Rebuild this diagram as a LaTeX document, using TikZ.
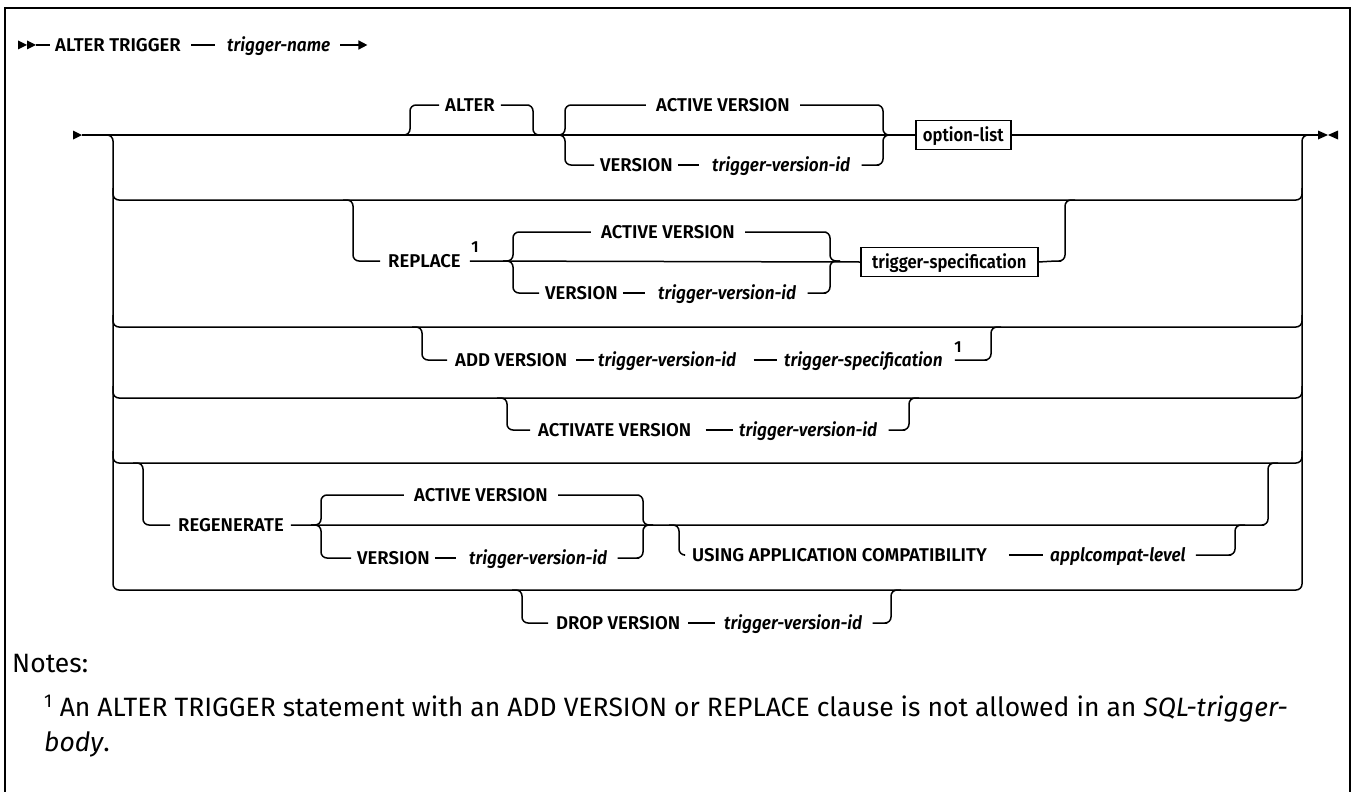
\documentclass[tikz,border=0pt]{standalone}
\usepackage{fontspec}
\setmainfont{Fira Sans}
\newfontfamily\railfont{Fira Sans}[UprightFont=* SemiBold, ItalicFont=* SemiBold Italic, ItalicFeatures={FakeStretch=0.93}]
\newfontfamily\boxfont{Fira Sans}[UprightFont=* SemiBold, FakeStretch=0.9]
\usetikzlibrary{arrows.meta}

\tikzset{
  track/.style={line width=1.5pt, rounded corners=6pt},
  kw/.style={font=\railfont\fontsize{18.5}{22}\selectfont, inner sep=0pt, text height=13pt, text depth=0pt, anchor=west},
  var/.style={kw, font=\railfont\itshape\fontsize{18.5}{22}\selectfont},
  sbox/.style={kw, font=\boxfont\fontsize{18.5}{22}\selectfont, draw, line width=1.5pt, minimum height=29pt},
  fnmark/.style={font=\railfont\fontsize{16}{18}\selectfont, inner sep=0pt},
  note/.style={font=\fontsize{26.5}{30}\selectfont, inner sep=0pt, text height=19pt, text depth=0pt, anchor=west}
}

\begin{document}
\begin{tikzpicture}[x=1pt, y=-1pt]
    \useasboundingbox (0,0) rectangle (1354,792);
    \draw[line width=2pt] (5,792) -- (5,8) -- (1350,8) -- (1350,792);

    % first line
    \foreach \tx in {18,27} \fill (\tx,40.5) -- ++(9,4.5) -- ++(-9,4.5) -- cycle;
    \node[kw] (altertrig) at (55,45) {ALTER TRIGGER};
    \node[var] (trigname) at (227,45) {trigger-name};
    \draw[track] (36,45) -- ([xshift=-5pt]altertrig.west);
    \draw[track] ([xshift=10pt]altertrig.east) -- ([xshift=-12pt]trigname.west);
    \draw[track, -{Triangle[length=9pt, width=9pt]}] ([xshift=10pt]trigname.east) -- ++(27,0);

    % main line and the stack of choices
    \fill (73,130.5) -- ++(9,4.5) -- ++(-9,4.5) -- cycle;
    \node[sbox, minimum width=95pt, align=center] (optlist) at (915,135) {option-list};
    \draw[track] (82,135) -- (optlist.west);
    \draw[track] (optlist.east) -- (1318,135);
    \fill (1318,130.5) -- ++(10,4.5) -- ++(-10,4.5) -- cycle;
    \fill (1338,130.5) -- ++(-10,4.5) -- ++(10,4.5) -- cycle;
    \draw[track] (105,135) -| (113,590) -| (1302,135) -- (1310,135);
    \foreach \ly in {200,327,398,463}
        \draw[track] (113,\ly-12) |- (1302,\ly) -- (1302,\ly-12);

    % ALTER
    \node[kw] (alter) at (445,105) {ALTER};
    \draw[track] (400,135) -| (410,105) -- ([xshift=-6pt]alter.west);
    \draw[track] ([xshift=6pt]alter.east) -- (523,105) -| (533,135) -- (543,135);
    \node[kw, anchor=center] (actv1) at (723,105) {ACTIVE VERSION};
    \node[kw] (ver1) at (600,165) {VERSION};
    \node[var] (tvid1) at (712,165) {trigger-version-id};
    \draw[track] (555,135) -| (565,105) -- ([xshift=-10pt]actv1.west);
    \draw[track] ([xshift=10pt]actv1.east) -- (873,105) -| (883,135) -- (893,135);
    \draw[track] (555,135) -| (565,165) -- ([xshift=-6pt]ver1.west);
    \draw[track] ([xshift=5pt]ver1.east) -- ([xshift=-13pt]tvid1.west);
    \draw[track] ([xshift=11pt]tvid1.east) -- (873,165) -| (883,135) -- (893,135);

    % REPLACE
    \node[kw] (replace) at (388,261) {REPLACE};
    \node[fnmark] (rfn) at (475,247) {1};
    \node[kw, anchor=center] (actv2) at (668,232) {ACTIVE VERSION};
    \node[kw] (ver2) at (545,293) {VERSION};
    \node[var] (tvid2) at (658,293) {trigger-version-id};
    \node[sbox, minimum width=177pt, align=center] (tspec) at (860,262) {trigger-specification};
    \draw[track] (343,200) -| (353,261) -- ([xshift=-8pt]replace.west);
    \draw[track] ([xshift=9pt]replace.east) -- (tspec.west);
    \draw[track] (503,261) -| (513,232) -- ([xshift=-10pt]actv2.west);
    \draw[track] ([xshift=10pt]actv2.east) -- (820,232) -| (830,261) -- (840,261);
    \draw[track] (503,261) -| (513,293) -- ([xshift=-6pt]ver2.west);
    \draw[track] ([xshift=5pt]ver2.east) -- ([xshift=-13pt]tvid2.west);
    \draw[track] ([xshift=11pt]tvid2.east) -- (820,293) -| (830,261) -- (840,261);
    \draw[track] (tspec.east) -- (1055,261) -| (1065,200) -- (1075,200);

    % ADD VERSION
    \node[kw] (addv) at (455,360) {ADD VERSION};
    \node[var] (tvid4) at (598,360) {trigger-version-id};
    \node[var] (tspec4) at (784,360) {trigger-specification};
    \node[fnmark] (afn) at (958,347) {1};
    \draw[track] (412,327) -| (422,360) -- ([xshift=-8pt]addv.west);
    \draw[track] ([xshift=9pt]addv.east) -- ([xshift=-4pt]tvid4.west);
    \draw[track] ([xshift=17pt]tvid4.east) -- ([xshift=-7pt]tspec4.west);
    \draw[track] ([xshift=12pt]tspec4.east) -- (981,360) -| (991,327) -- (1001,327);

    % ACTIVATE VERSION
    \node[kw] (actvv) at (538,430) {ACTIVATE VERSION};
    \node[var] (tvid5) at (739,430) {trigger-version-id};
    \draw[track] (497,398) -| (507,430) -- ([xshift=-8pt]actvv.west);
    \draw[track] ([xshift=14pt]actvv.east) -- ([xshift=-6pt]tvid5.west);
    \draw[track] ([xshift=11pt]tvid5.east) -- (899,430) -| (909,398) -- (919,398);

    % REGENERATE
    \node[kw] (regen) at (178,525) {REGENERATE};
    \node[kw, anchor=center] (actv3) at (481,495) {ACTIVE VERSION};
    \node[kw] (ver3) at (357,558) {VERSION};
    \node[var] (tvid3) at (469,558) {trigger-version-id};
    \draw[track] (133,463) -| (143,525) -- ([xshift=-8pt]regen.west);
    \draw[track] ([xshift=7pt]regen.east) -- (1258,525) -| (1268,463) -- (1278,463);
    \draw[track] (311,525) -| (321,495) -- ([xshift=-10pt]actv3.west);
    \draw[track] ([xshift=10pt]actv3.east) -- (633,495) -| (643,525) -- (653,525);
    \draw[track] (311,525) -| (321,558) -- ([xshift=-6pt]ver3.west);
    \draw[track] ([xshift=5pt]ver3.east) -- ([xshift=-13pt]tvid3.west);
    \draw[track] ([xshift=10pt]tvid3.east) -- (633,558) -| (643,525) -- (653,525);
    \node[kw] (usingac) at (692,555) {USING APPLICATION COMPATIBILITY};
    \node[var] (applc) at (1050,555) {applcompat-level};
    \draw[track] (669,525) -| (679,555) -- ([xshift=-8pt]usingac.west);
    \draw[track] ([xshift=22pt]usingac.east) -- ([xshift=-7pt]applc.west);
    \draw[track] ([xshift=10pt]applc.east) -- (1225,555) -| (1235,525) -- (1245,525);

    % DROP VERSION
    \node[kw] (dropv) at (556,623) {DROP VERSION};
    \node[var] (tvid6) at (724,623) {trigger-version-id};
    \draw[track] (512,590) -| (522,623) -- ([xshift=-8pt]dropv.west);
    \draw[track] ([xshift=8pt]dropv.east) -- ([xshift=-9pt]tvid6.west);
    \draw[track] ([xshift=10pt]tvid6.east) -- (881,623) -| (891,590) -- (901,590);

    % notes
    \node[note] (notes) at (12,663) {Notes:};
    \node[note] (fnone) at (44,707) {\textsuperscript{1} An ALTER TRIGGER statement with an ADD VERSION or REPLACE clause is not allowed in an \textit{SQL-trigger-}};
    \node[note] (fntwo) at (44,742) {\textit{body}.};
\end{tikzpicture}
\end{document}
